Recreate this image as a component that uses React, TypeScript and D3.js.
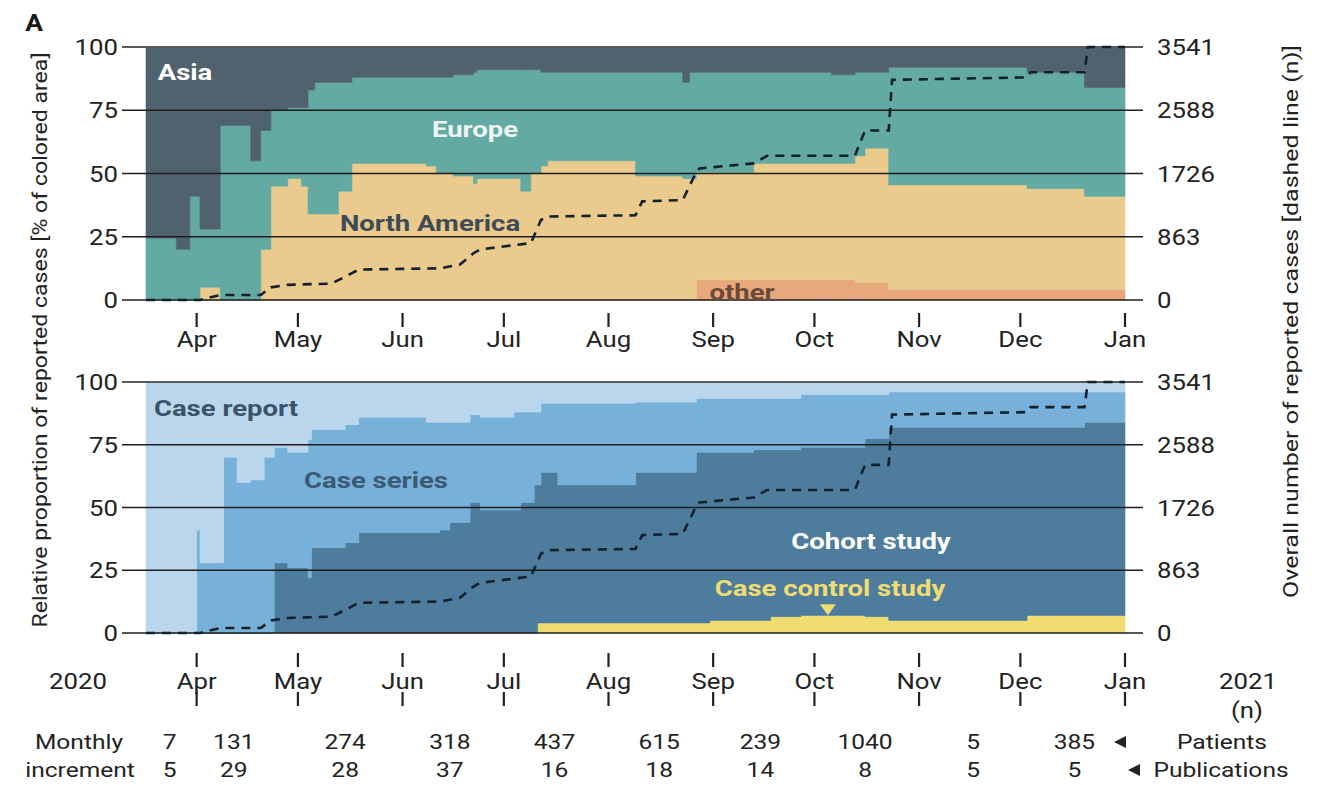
import React from "react";
import * as d3 from "d3";

// ---------------- DATA ----------------
// Top panel: share of reported cases by continent (percent), step starts
const regionDates = [
  "2020-03-17", "2020-03-26", "2020-03-30", "2020-04-02", "2020-04-08", "2020-04-17",
  "2020-04-20", "2020-04-23", "2020-04-28", "2020-05-02", "2020-05-04", "2020-05-06",
  "2020-05-13", "2020-05-17", "2020-06-08", "2020-06-11", "2020-06-16", "2020-06-22",
  "2020-06-23", "2020-07-06", "2020-07-09", "2020-07-12", "2020-07-14", "2020-08-09",
  "2020-08-23", "2020-08-25", "2020-08-27", "2020-09-13", "2020-10-06", "2020-10-13",
  "2020-10-16", "2020-10-23", "2020-12-03", "2020-12-20",
];
const otherShare = [
  0, 0, 0, 0, 0, 0, 0, 0, 0, 0, 0, 0, 0, 0, 0, 0, 0, 0, 0, 0, 0, 0, 0, 0, 0, 0,
  8, 8, 8, 7, 7, 4, 4, 4,
];
const northAmericaShare = [
  0, 0, 0, 5, 0, 0, 20, 45, 48, 45, 34, 34, 43, 54, 53, 50, 49, 46, 48, 43, 50, 53, 55, 49,
  48, 48, 42.5, 46, 46, 50, 53, 41.5, 40, 37,
];
const europeShare = [
  24.5, 20, 41, 23, 69, 55, 47, 30, 28, 31, 49, 52, 43, 34, 35, 38, 40, 44, 43, 48, 41, 37,
  35, 41, 38, 42, 39.5, 36, 35, 33, 30, 46.5, 46, 43,
];
const asiaShare = [
  75.5, 80, 59, 72, 31, 45, 33, 25, 24, 24, 17, 14, 14, 12, 12, 12, 11, 10, 9, 9, 9, 10, 10,
  10, 14, 10, 10, 10, 11, 10, 10, 8, 10, 16,
];

// Bottom panel: share of reported cases by study type (percent)
const studyDates = [
  "2020-03-17", "2020-04-01", "2020-04-02", "2020-04-09", "2020-04-13", "2020-04-17",
  "2020-04-21", "2020-04-24", "2020-04-28", "2020-05-04", "2020-05-05", "2020-05-15",
  "2020-05-19", "2020-06-08", "2020-06-12", "2020-06-15", "2020-06-21", "2020-06-24",
  "2020-07-04", "2020-07-06", "2020-07-10", "2020-07-11", "2020-07-12", "2020-07-17",
  "2020-08-09", "2020-08-27", "2020-08-31", "2020-09-13", "2020-09-18", "2020-09-27",
  "2020-10-16", "2020-10-23", "2020-12-03", "2020-12-20",
];
const caseControlShare = [
  0, 0, 0, 0, 0, 0, 0, 0, 0, 0, 0, 0, 0, 0, 0, 0, 0, 0, 0, 0, 0, 4, 4, 4, 4, 4, 5, 5, 6.5,
  7, 6.5, 5, 7, 7,
];
const cohortShare = [
  0, 0, 0, 0, 0, 0, 0, 28, 26, 22, 34, 36, 40, 40, 41, 44, 52, 49, 49, 52, 59, 55, 60, 55,
  60, 68, 67, 68, 66.5, 67, 71, 77, 75, 77,
];
const caseSeriesShare = [
  0, 41, 28, 70, 60, 61, 70, 46, 46, 55, 47, 47, 46, 44, 43, 40, 35, 37, 39, 36, 29, 29,
  27.5, 32.5, 28, 21.5, 21.5, 20.5, 20.5, 21, 17.5, 14, 14, 12,
];
const caseReportShare = [
  100, 59, 72, 30, 40, 39, 30, 26, 28, 23, 19, 17, 14, 16, 16, 16, 13, 14, 12, 12, 12, 12,
  8.5, 8.5, 8, 6.5, 6.5, 6.5, 6.5, 5, 5, 4, 4, 4,
];

// Cumulative number of reported cases (dashed line)
const cumulativeDates = [
  "2020-03-17", "2020-04-02", "2020-04-08", "2020-04-20", "2020-04-23", "2020-04-28",
  "2020-05-11", "2020-05-17", "2020-05-19", "2020-06-12", "2020-06-18", "2020-06-22",
  "2020-06-24", "2020-07-09", "2020-07-12", "2020-07-14", "2020-08-09", "2020-08-11",
  "2020-08-23", "2020-08-27", "2020-08-28", "2020-09-13", "2020-09-17", "2020-10-13",
  "2020-10-14", "2020-10-16", "2020-10-23", "2020-10-24", "2020-12-03", "2020-12-04",
  "2020-12-20", "2020-12-21", "2021-01-01",
];
const cumulativeCases = [
  0, 0, 71, 71, 177, 212, 230, 375, 425, 443, 496, 655, 708, 797, 1119, 1169, 1186, 1381,
  1399, 1792, 1841, 1912, 2018, 2018, 2142, 2372, 2372, 3081, 3116, 3187, 3187, 3541, 3541,
];

const pctTicks = [0, 25, 50, 75, 100];
const rightTickLabels = ["0", "863", "1726", "2588", "3541"];
const monthTicks = [
  "2020-04-01", "2020-05-01", "2020-06-01", "2020-07-01", "2020-08-01", "2020-09-01",
  "2020-10-01", "2020-11-01", "2020-12-01", "2021-01-01",
];
const monthNames = ["Apr", "May", "Jun", "Jul", "Aug", "Sep", "Oct", "Nov", "Dec", "Jan"];
const incrementDates = [
  "2020-03-24", "2020-04-12", "2020-05-15", "2020-06-15", "2020-07-16", "2020-08-16",
  "2020-09-15", "2020-10-16", "2020-11-17", "2020-12-17",
];
const monthlyPatients = ["7", "131", "274", "318", "437", "615", "239", "1040", "5", "385"];
const monthlyPublications = ["5", "29", "28", "37", "16", "18", "14", "8", "5", "5"];

// ---------------- STYLE ----------------
const FONT = "Roboto, 'Liberation Sans', Arial, sans-serif";
const regionKeys = ["other", "northAmerica", "europe", "asia"];
const regionColors: Record<string, string> = {
  other: "#e9a77c",
  northAmerica: "#ebca8e",
  europe: "#62aaa2",
  asia: "#4f626e",
};
const studyKeys = ["caseControl", "cohort", "caseSeries", "caseReport"];
const studyColors: Record<string, string> = {
  caseControl: "#f1dc72",
  cohort: "#4d7c9d",
  caseSeries: "#77b1d9",
  caseReport: "#bad6ed",
};

const parse = d3.timeParse("%Y-%m-%d") as (s: string) => Date;
const START = parse("2020-03-17");
const END = parse("2021-01-01");

const PL = 146;
const PR = 1125;
const GL = 122;
const GR = 1143;
const TOP1 = 47;
const BOT1 = 300;
const TOP2 = 382;
const BOT2 = 633;

function T(props: {
  x: number;
  y: number;
  text: string;
  size?: number;
  weight?: string | number;
  fill?: string;
  anchor?: "start" | "middle" | "end";
  sx?: number;
}) {
  const { x, y, text, size = 22, weight = 400, fill = "#222", anchor = "middle", sx = 1.17 } = props;
  return (
    <text
      transform={`translate(${x},${y}) scale(${sx},1)`}
      textAnchor={anchor}
      fontSize={size}
      fontWeight={weight}
      fill={fill}
      fontFamily={FONT}
    >
      {text}
    </text>
  );
}

function Panel(props: {
  dates: string[];
  keys: string[];
  values: Record<string, number[]>;
  colors: Record<string, string>;
  top: number;
  bottom: number;
}) {
  const { dates, keys, values, colors, top, bottom } = props;
  const x = d3.scaleTime().domain([START, END]).range([PL, PR]);
  const y = d3.scaleLinear().domain([0, 100]).range([bottom, top]);
  const n = d3.scaleLinear().domain([0, 3541]).range([bottom, top]);
  const rows: any[] = dates.map((d, i) => {
    const r: any = { date: parse(d) };
    keys.forEach((k) => (r[k] = values[k][i]));
    return r;
  });
  const last = { ...rows[rows.length - 1], date: END };
  rows.push(last);
  const series = d3.stack<any>().keys(keys)(rows);
  const area = d3
    .area<any>()
    .x((d) => x(d.data.date))
    .y0((d) => y(d[0]))
    .y1((d) => y(d[1]))
    .curve(d3.curveStepAfter);
  const cum = cumulativeDates.map((d, i) => ({ date: parse(d), v: cumulativeCases[i] }));
  const line = d3
    .line<any>()
    .x((d) => x(d.date))
    .y((d) => n(d.v));
  return (
    <g>
      {series.map((s) => (
        <path
          key={s.key}
          d={area(s) || ""}
          fill={colors[s.key]}
          stroke={colors[s.key]}
          strokeWidth={0.6}
        />
      ))}
      {pctTicks.map((p, i) => (
        <g key={p}>
          <line
            x1={GL}
            x2={GR}
            y1={y(p)}
            y2={y(p)}
            stroke={p === 100 ? "#5a5a5a" : "#1e1e1e"}
            strokeWidth={p === 100 ? 2 : 1.6}
          />
          <T x={GL - 4} y={y(p) + 8} text={String(p)} anchor="end" />
          <T x={GR + 14} y={y(p) + 8} text={rightTickLabels[i]} anchor="start" />
        </g>
      ))}
      <path
        d={line(cum) || ""}
        fill="none"
        stroke="#14202c"
        strokeWidth={2.6}
        strokeDasharray="9 7"
      />
    </g>
  );
}

export default function App() {
  const x = d3.scaleTime().domain([START, END]).range([PL, PR]);
  const y1 = d3.scaleLinear().domain([0, 100]).range([BOT1, TOP1]);
  const y2 = d3.scaleLinear().domain([0, 100]).range([BOT2, TOP2]);
  const triY = y2(9.5);
  const triX = x(parse("2020-10-05"));
  return (
    <svg width={1319} height={785} style={{ display: "block", position: "absolute", left: 0, top: 0, background: "#fff" }}>
      <rect x={0} y={0} width={1319} height={785} fill="#fff" />
      <T x={34} y={31} text="A" size={24} weight={700} fill="#1a1a1a" sx={1.1} />

      <Panel
        dates={regionDates}
        keys={regionKeys}
        values={{ other: otherShare, northAmerica: northAmericaShare, europe: europeShare, asia: asiaShare }}
        colors={regionColors}
        top={TOP1}
        bottom={BOT1}
      />
      <Panel
        dates={studyDates}
        keys={studyKeys}
        values={{ caseControl: caseControlShare, cohort: cohortShare, caseSeries: caseSeriesShare, caseReport: caseReportShare }}
        colors={studyColors}
        top={TOP2}
        bottom={BOT2}
      />

      {/* in-plot labels, top */}
      <T x={185} y={y1(90) + 8} text="Asia" weight={700} fill="#ffffff" sx={1.25} />
      <T x={475} y={y1(67.5) + 8} text="Europe" weight={700} fill="#eef6f5" sx={1.25} />
      <T x={430} y={y1(30.5) + 8} text="North America" weight={700} fill="#3e4b57" sx={1.25} />
      <T x={742} y={y1(3) + 8} text="other" weight={700} fill="#6b4a3a" sx={1.25} />

      {/* in-plot labels, bottom */}
      <T x={226} y={y2(89.5) + 8} text="Case report" weight={700} fill="#39536a" sx={1.25} />
      <T x={376} y={y2(61) + 8} text="Case series" weight={700} fill="#3b5a74" sx={1.25} />
      <T x={871} y={y2(36.5) + 8} text="Cohort study" weight={700} fill="#ffffff" sx={1.25} />
      <T x={830} y={y2(18) + 8} text="Case control study" weight={700} fill="#f1dc72" sx={1.25} />
      <path
        d={`M${triX - 8},${triY - 5} L${triX + 8},${triY - 5} L${triX},${triY + 6} Z`}
        fill="#f1dc72"
      />

      {/* month ticks */}
      {monthTicks.map((m, i) => {
        const xm = x(parse(m));
        return (
          <g key={m}>
            <line x1={xm} x2={xm} y1={313} y2={327} stroke="#222" strokeWidth={2.2} />
            <T x={xm} y={347} text={monthNames[i]} />
            <line x1={xm} x2={xm} y1={653} y2={667} stroke="#222" strokeWidth={2.2} />
            <T x={xm} y={689} text={monthNames[i]} />
            <line x1={xm} x2={xm} y1={692} y2={706} stroke="#222" strokeWidth={2.2} />
          </g>
        );
      })}
      <T x={78} y={689} text="2020" />
      <T x={1248} y={689} text="2021" />
      <T x={1247} y={718} text="(n)" />

      <T x={79} y={749} text="Monthly" size={21} />
      <T x={80} y={777} text="increment" size={21} />
      {incrementDates.map((d, i) => (
        <g key={d}>
          <T x={x(parse(d))} y={749} text={monthlyPatients[i]} size={21} />
          <T x={x(parse(d))} y={777} text={monthlyPublications[i]} size={21} />
        </g>
      ))}
      <path d="M1114,742 L1126,736 L1126,748 Z" fill="#222" />
      <T x={1222} y={749} text="Patients" size={21} />
      <path d="M1128,770 L1140,764 L1140,776 Z" fill="#222" />
      <T x={1221} y={777} text="Publications" size={21} />

      {/* axis titles */}
      <text
        transform={`translate(47,${(TOP1 + BOT2) / 2}) rotate(-90)`}
        textAnchor="middle"
        fontSize={21}
        fontFamily={FONT}
        fill="#222"
        textLength={575}
        lengthAdjust="spacingAndGlyphs"
      >
        Relative proportion of reported cases [% of colored area]
      </text>
      <text
        transform={`translate(1298,${(45 + 598) / 2}) rotate(-90)`}
        textAnchor="middle"
        fontSize={21}
        fontFamily={FONT}
        fill="#222"
        textLength={553}
        lengthAdjust="spacingAndGlyphs"
      >
        Overall number of reported cases [dashed line (n)]
      </text>
    </svg>
  );
}
